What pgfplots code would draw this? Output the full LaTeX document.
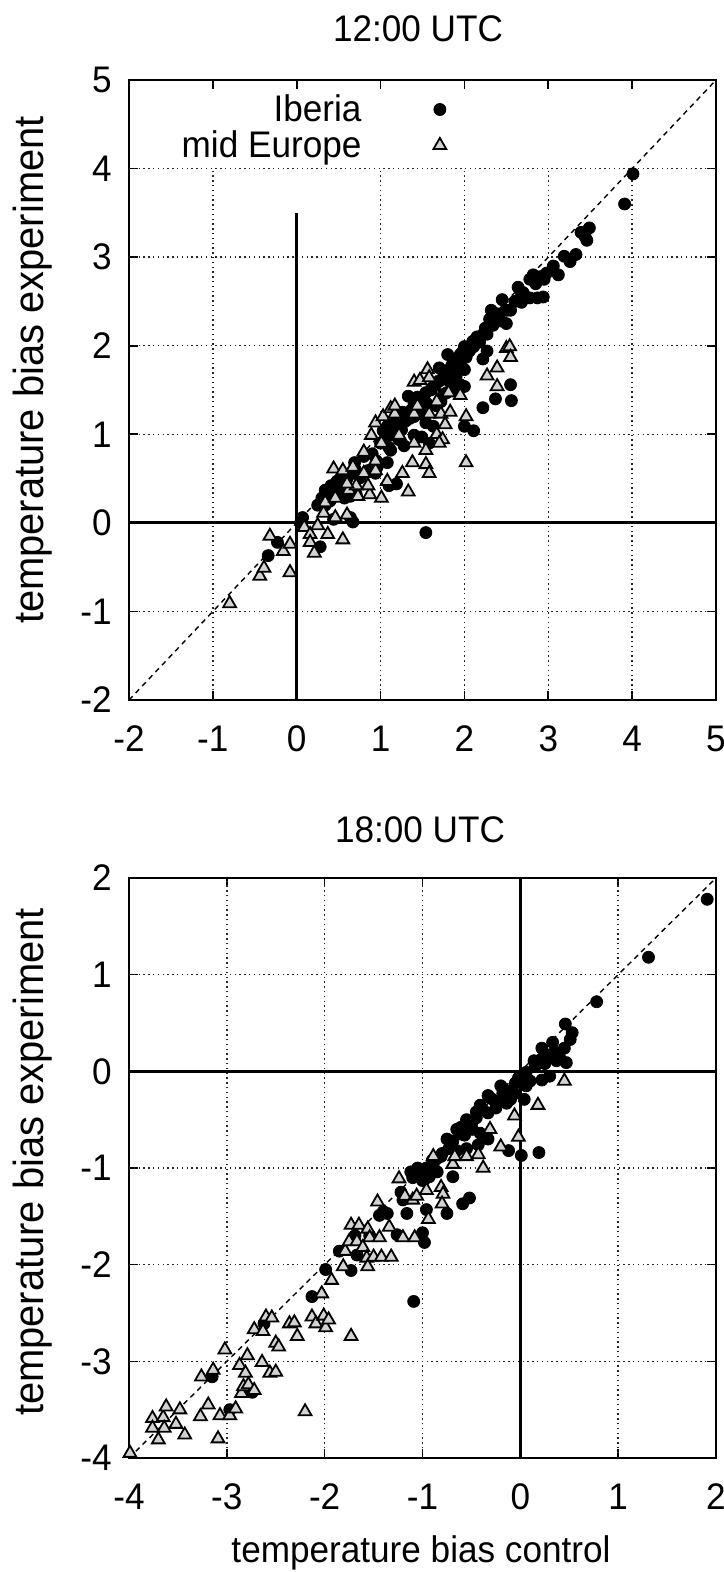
\documentclass[border=0pt]{standalone}
\usepackage{fontspec}
\setmainfont[FakeStretch=0.95]{Liberation Sans}
\usepackage{pgfplots}
\pgfplotsset{compat=1.18}
\tikzset{
  griddot/.style={line width=0.7pt, dash pattern=on 0.7pt off 1.7pt, black!85},
  zeroline/.style={line width=1.5pt, black},
}
\pgfplotsset{
  myax/.style={
    scale only axis,
    clip=false,
    axis line style={line width=1pt},
    every tick/.style={black, line width=0.8pt},
    major tick length=4.5pt,
    tick align=inside,
    xtick pos=both, ytick pos=both,
    ticklabel style={font=\fontsize{18.5}{21}\selectfont},
    xticklabel style={anchor=base, inner sep=0pt, yshift=-25.5pt},
    yticklabel style={anchor=east, inner sep=0pt, xshift=-8.5pt},
  },
  diag/.style={line width=0.7pt, dash pattern=on 2.6pt off 2.2pt, black},
  iberia/.style={only marks, mark=*, mark size=3.0pt, mark options={fill=black, draw=black}},
  mideur/.style={only marks, mark=triangle*, mark size=3.7pt, mark options={fill=gray!35, draw=black, line width=0.9pt}},
}
\begin{document}
\begin{tikzpicture}[x=1pt,y=1pt]
\useasboundingbox (0,0) rectangle (361.5,-786);
% titles and labels
\node[font=\fontsize{18.5}{21}\selectfont, anchor=base] at (209,-21) {12:00 UTC};
\node[font=\fontsize{18.5}{21}\selectfont, anchor=base] at (210,-421) {18:00 UTC};
\node[font=\fontsize{18.5}{21}\selectfont, anchor=base] at (210.5,-781) {temperature bias control};
\node[font=\fontsize{21}{24}\selectfont, anchor=base, rotate=90] at (21.5,-185) {temperature bias experiment};
\node[font=\fontsize{21}{24}\selectfont, anchor=base, rotate=90] at (21.5,-581) {temperature bias experiment};

% ---------------- top panel ----------------
\begin{axis}[myax,
  at={(64.5pt,-350pt)}, anchor=south west,
  width=293.5pt, height=310pt,
  xmin=-2, xmax=5, ymin=-2, ymax=5,
  xtick={-2,-1,0,1,2,3,4,5}, xticklabels={-2,-1,0,1,2,3,4,5},
  ytick={-2,-1,0,1,2,3,4,5}, yticklabels={-2,-1,0,1,2,3,4,5},
  legend plot pos=right,
  legend cell align=right,
  legend style={draw=none, fill=none, font=\fontsize{18.5}{21}\selectfont,
    at={(axis cs:1.86,4.93)}, anchor=north east,
    row sep=-1pt,
    /tikz/every odd column/.append style={column sep=34pt}},
]
% grid
\draw[griddot] (axis cs:-1,-2) -- (axis cs:-1,4);
\draw[griddot] (axis cs:1,-2) -- (axis cs:1,4);
\draw[griddot] (axis cs:2,-2) -- (axis cs:2,4);
\draw[griddot] (axis cs:3,-2) -- (axis cs:3,4);
\draw[griddot] (axis cs:4,-2) -- (axis cs:4,4);
\draw[griddot] (axis cs:-2,-1) -- (axis cs:5,-1);
\draw[griddot] (axis cs:-2,1) -- (axis cs:5,1);
\draw[griddot] (axis cs:-2,2) -- (axis cs:5,2);
\draw[griddot] (axis cs:-2,3) -- (axis cs:5,3);
\draw[griddot] (axis cs:-2,4) -- (axis cs:5,4);
\draw[zeroline] (axis cs:-2,0) -- (axis cs:5,0);
\draw[zeroline] (axis cs:0,-2) -- (axis cs:0,3.5);
\addplot[diag, forget plot] coordinates {(-2,-2) (5,5)};

\addplot[iberia] coordinates {
(4.01,3.94) (3.91,3.60) (3.49,3.33) (3.39,3.28) (3.46,3.19) (3.44,3.23)
(3.19,3.01) (3.33,3.03) (3.26,2.95) (3.06,2.90) (3.12,2.80) (2.98,2.82)
(2.91,2.78) (2.78,2.75) (2.82,2.80) (2.64,2.66) (2.68,2.59) (2.78,2.54)
(2.87,2.54) (2.94,2.55) (2.45,2.52) (2.55,2.40) (2.68,2.49) (2.32,2.40)
(2.39,2.36) (2.43,2.28) (2.50,2.25) (2.34,2.23) (2.25,2.20) (2.27,2.13)
(2.20,2.11) (2.18,2.04) (2.11,1.99) (2.06,1.94) (2.00,1.99) (1.97,1.92)
(2.02,1.87) (1.95,1.82) (1.90,1.75) (2.00,1.73) (1.86,1.66) (1.81,1.61)
(1.95,1.56) (1.88,1.51) (1.79,1.47) (2.00,1.54) (2.22,1.85) (2.27,1.94)
(2.55,1.56) (2.56,1.38) (2.37,1.40) (2.22,1.30) (2.00,1.09) (2.11,1.04)
(1.72,1.37) (1.67,1.32) (1.54,1.47) (1.44,1.42) (1.33,1.43) (1.40,1.35)
(1.49,1.23) (1.54,1.13) (1.35,1.18) (1.26,1.25) (1.17,1.13) (1.08,1.09)
(1.03,1.04) (1.12,0.99) (1.22,0.94) (1.28,0.87) (1.40,0.99) (1.49,0.97)
(1.58,0.90) (1.63,1.09) (1.12,0.82) (1.08,0.68) (0.96,0.63) (0.94,0.56)
(0.85,0.59) (0.69,0.68) (0.67,0.56) (0.76,0.51) (0.57,0.54) (0.48,0.47)
(0.41,0.42) (0.34,0.37) (0.39,0.30) (0.30,0.28) (0.46,0.32) (0.57,0.28)
(0.64,0.30) (0.71,0.32) (1.19,0.44) (1.10,0.42) (0.44,0.04) (0.67,0.01)
(0.64,0.06) (0.07,0.06) (0.05,0.01) (0.28,-0.27) (-0.23,-0.22) (-0.34,-0.37)
(1.54,-0.11) (0.34,0.20)
(0.90,0.78) (1.00,0.90) (1.05,0.95) (1.15,1.00) (1.20,1.10) (1.30,1.15)
(1.35,1.25) (1.45,1.30) (1.50,1.40) (1.55,1.35) (1.60,1.50) (1.65,1.55)
(1.70,1.60) (1.75,1.70) (1.80,1.72) (1.85,1.78) (1.90,1.85) (1.95,1.90)
(2.05,1.95) (2.10,2.05) (2.15,2.10) (2.25,2.15) (2.30,2.30) (2.40,2.30)
(2.50,2.40) (2.60,2.50) (2.70,2.60) (2.85,2.70) (2.95,2.75) (1.25,1.05)
(1.40,1.20) (1.10,0.85) (0.95,0.70) (0.80,0.75) (0.70,0.60) (0.60,0.50)
(0.45,0.40) (0.35,0.35) (0.25,0.20) (0.40,0.25) (0.50,0.35) (1.75,1.45)
(1.85,1.55) (1.90,1.65) (1.70,1.75) (1.80,1.90) (1.78,1.68) (1.82,1.60)
};
\addlegendentry{Iberia}

\addplot[mideur] coordinates {
(-0.80,-0.91) (-0.44,-0.60) (-0.39,-0.51) (-0.32,-0.15) (-0.16,-0.32) (-0.08,-0.24)
(-0.08,-0.56) (0.09,-0.05) (0.16,-0.13) (0.25,-0.03) (0.16,-0.22) (0.21,-0.34)
(0.37,-0.13) (0.55,-0.19) (0.32,0.11) (0.46,0.06) (0.60,0.09) (0.34,0.23)
(0.46,0.28) (0.62,0.37) (0.73,0.30) (0.87,0.32) (1.01,0.28) (0.85,0.42)
(0.71,0.42) (0.60,0.44) (0.44,0.61) (0.55,0.59) (0.67,0.63) (0.80,0.56)
(0.94,0.59) (1.08,0.47) (1.33,0.35) (1.26,0.56) (1.38,0.68) (1.54,0.66)
(1.58,0.56) (0.80,0.80) (0.94,0.70) (1.01,0.90) (0.89,0.99) (0.94,1.13)
(1.03,1.20) (1.12,1.29) (1.17,1.23) (1.22,0.99) (1.40,0.90) (1.54,0.82)
(1.40,1.23) (1.44,1.32) (1.58,1.23) (1.72,1.23) (1.83,1.25) (1.77,1.11)
(1.67,1.00) (1.74,0.94) (1.70,0.90) (2.02,1.20) (2.02,0.68) (1.40,1.59)
(1.47,1.61) (1.56,1.73) (1.58,1.64) (1.67,1.37) (1.81,1.47) (1.95,1.44)
(2.27,1.66) (2.39,1.75) (2.39,1.54) (2.50,1.97) (2.54,1.99) (2.55,1.87)
(1.17,1.32)
};
\addlegendentry{mid Europe}
\end{axis}

% ---------------- bottom panel ----------------
\begin{axis}[myax,
  at={(64.5pt,-729pt)}, anchor=south west,
  width=293.5pt, height=290pt,
  xmin=-4, xmax=2, ymin=-4, ymax=2,
  xtick={-4,-3,-2,-1,0,1,2}, xticklabels={-4,-3,-2,-1,0,1,2},
  ytick={-4,-3,-2,-1,0,1,2}, yticklabels={-4,-3,-2,-1,0,1,2},
]
\draw[griddot] (axis cs:-3,-4) -- (axis cs:-3,2);
\draw[griddot] (axis cs:-2,-4) -- (axis cs:-2,2);
\draw[griddot] (axis cs:-1,-4) -- (axis cs:-1,2);
\draw[griddot] (axis cs:1,-4) -- (axis cs:1,2);
\draw[griddot] (axis cs:-4,-3) -- (axis cs:2,-3);
\draw[griddot] (axis cs:-4,-2) -- (axis cs:2,-2);
\draw[griddot] (axis cs:-4,-1) -- (axis cs:2,-1);
\draw[griddot] (axis cs:-4,1) -- (axis cs:2,1);
\draw[zeroline] (axis cs:-4,0) -- (axis cs:2,0);
\draw[zeroline] (axis cs:0,-4) -- (axis cs:0,2);
\addplot[diag, forget plot] coordinates {(-4,-4) (2,2)};

\addplot[iberia] coordinates {
(1.91,1.78) (1.31,1.18) (0.78,0.72) (0.46,0.49) (0.53,0.40) (0.51,0.33)
(0.33,0.30) (0.45,0.24) (0.22,0.24) (0.30,0.17) (0.14,0.11) (0.22,0.13)
(0.37,0.11) (0.47,0.09) (0.06,-0.01) (-0.02,-0.07) (0.22,-0.09) (0.30,-0.05)
(0.06,-0.15) (-0.06,-0.23) (-0.18,-0.23) (-0.10,-0.29) (-0.26,-0.31) (-0.33,-0.25)
(-0.41,-0.35) (-0.14,-0.33) (0.04,-0.29) (-0.33,-0.43) (-0.45,-0.48) (-0.53,-0.52)
(-0.61,-0.58) (-0.49,-0.60) (-0.57,-0.66) (-0.41,-0.64) (-0.69,-0.72) (-0.73,-0.80)
(-0.65,-0.82) (-0.55,-0.80) (-0.43,-0.76) (-0.33,-0.70) (-0.12,-0.82) (0.01,-0.87)
(0.19,-0.84) (-0.81,-0.88) (-0.89,-0.96) (-0.96,-1.00) (-1.00,-1.04) (-1.08,-1.04)
(-1.10,-1.10) (-1.00,-1.13) (-0.93,-1.09) (-0.85,-1.04) (-0.69,-1.09) (-0.75,-1.47)
(-0.59,-1.37) (-0.52,-1.31) (-1.22,-1.25) (-1.20,-1.33) (-1.40,-1.45) (-1.44,-1.49)
(-1.36,-1.47) (-1.16,-1.47) (-0.96,-1.43) (-1.00,-1.67) (-0.98,-1.77) (-1.26,-1.69)
(-1.54,-1.70) (-1.69,-1.70) (-1.67,-1.90) (-1.73,-2.06) (-1.85,-1.86) (-1.99,-2.05)
(-2.13,-2.33) (-1.09,-2.38) (-2.62,-2.61) (-3.15,-3.16) (-2.97,-3.50) (-2.74,-3.32)
(-0.20,-0.15) (-0.30,-0.28) (-0.25,-0.38) (-0.38,-0.40) (-0.45,-0.42) (-0.50,-0.55)
(-0.55,-0.50) (-0.60,-0.65) (-0.65,-0.60) (-0.70,-0.78) (-0.75,-0.70) (-0.80,-0.85)
(-0.85,-0.90) (-0.90,-0.92) (-0.95,-1.05) (-1.02,-1.08) (-1.05,-1.00) (-0.98,-1.12)
(-1.12,-1.04) (-0.10,-0.20) (0.00,-0.05) (0.10,-0.10) (-0.15,-0.25) (-0.05,-0.12)
(0.15,0.05) (0.35,0.20) (0.40,0.15) (0.25,0.08)
};
\addplot[mideur] coordinates {
(-3.99,-3.95) (-3.76,-3.59) (-3.76,-3.69) (-3.70,-3.81) (-3.65,-3.58) (-3.64,-3.69)
(-3.62,-3.47) (-3.52,-3.65) (-3.48,-3.50) (-3.43,-3.76) (-3.27,-3.57) (-3.26,-3.16)
(-3.19,-3.45) (-3.14,-3.09) (-3.09,-3.80) (-3.07,-3.56) (-3.02,-2.88) (-2.97,-3.56)
(-2.91,-3.49) (-2.87,-3.04) (-2.85,-3.33) (-2.83,-3.26) (-2.81,-3.12) (-2.79,-2.94)
(-2.78,-3.24) (-2.72,-3.30) (-2.72,-2.67) (-2.64,-3.01) (-2.63,-2.69) (-2.60,-2.54)
(-2.54,-2.55) (-2.56,-3.12) (-2.50,-3.11) (-2.50,-2.81) (-2.47,-2.85) (-2.36,-2.61)
(-2.31,-2.60) (-2.28,-2.74) (-2.20,-3.52) (-2.13,-2.54) (-2.09,-2.61) (-2.03,-2.30)
(-2.01,-2.53) (-1.99,-2.65) (-1.96,-2.57) (-1.93,-2.16) (-1.73,-2.74) (-1.81,-2.02)
(-1.79,-1.86) (-1.75,-1.76) (-1.73,-1.59) (-1.67,-1.76) (-1.65,-1.59) (-1.61,-1.82)
(-1.57,-1.93) (-1.56,-2.02) (-1.56,-1.63) (-1.54,-1.72) (-1.50,-1.92) (-1.42,-1.92)
(-1.32,-1.92) (-1.44,-1.72) (-1.34,-1.61) (-1.46,-1.35) (-1.24,-1.11) (-1.18,-1.29)
(-1.20,-1.72) (-1.08,-1.72) (-1.10,-1.33) (-1.06,-1.29) (-0.96,-1.23) (-0.94,-1.53)
(-0.81,-1.20) (-0.79,-1.27) (-0.80,-1.37) (-0.89,-0.88) (-0.69,-0.96) (-0.67,-0.88)
(-0.38,-1.00) (-0.31,-0.60) (-0.20,-0.78) (-0.02,-0.68) (0.18,-0.35) (0.45,-0.10)
(-0.06,-0.46) (-0.55,-0.88) (-0.43,-0.86)
};
\end{axis}
\end{tikzpicture}
\end{document}
